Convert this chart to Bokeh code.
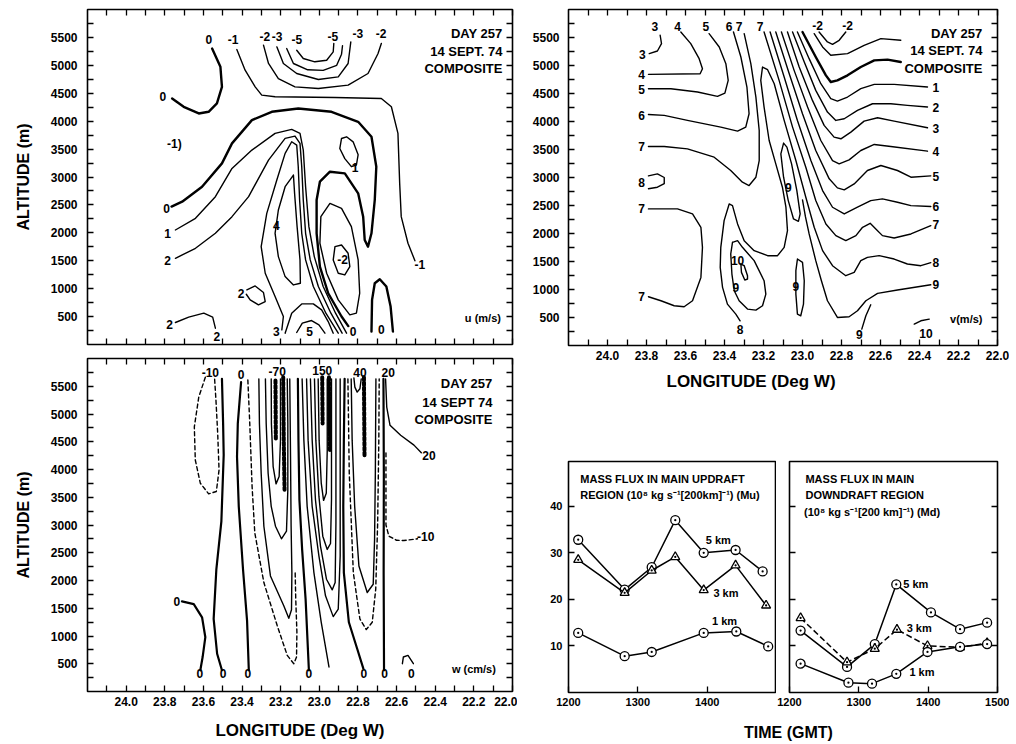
from bokeh.plotting import figure
from bokeh.models import (Range1d, LinearAxis, FixedTicker, NumeralTickFormatter,
                          ColumnDataSource, Div, Title)
from bokeh.layouts import row, column
from bokeh.embed import file_html
from bokeh.resources import INLINE
from bokeh.core.properties import value

FONT = "Liberation Sans"

# ---------------- axes ----------------
LON_TICKS = [24.0, 23.8, 23.6, 23.4, 23.2, 23.0, 22.8, 22.6, 22.4, 22.2, 22.0]
LON_MINOR = [24.1, 23.9, 23.7, 23.5, 23.3, 23.1, 22.9, 22.7, 22.5, 22.3, 22.1]
ALT_TICKS = [500, 1000, 1500, 2000, 2500, 3000, 3500, 4000, 4500, 5000, 5500]
ALT_MINOR = [250, 750, 1250, 1750, 2250, 2750, 3250, 3750, 4250, 4750, 5250, 5750]
TIME_TICKS_UP = [1200, 1300, 1400]
TIME_TICKS_DOWN = [1200, 1300, 1400, 1500]
FLUX_TICKS = [10, 20, 30, 40]

NOTE_UV = ["DAY 257", "14 SEPT. 74", "COMPOSITE"]
NOTE_W = ["DAY 257", "14 SEPT 74", "COMPOSITE"]

# ---------------- u (m/s) contours: (lon degW, altitude m) ----------------
U_ZERO_TL = [(23.555, 5300), (23.512, 4973), (23.504, 4615), (23.530, 4317), (23.573, 4168),
             (23.624, 4138), (23.702, 4257), (23.762, 4407)]
U_NEG1 = [(23.427, 5283), (23.384, 4913), (23.332, 4615), (23.298, 4466), (23.229, 4437),
          (22.920, 4425), (22.679, 4407), (22.627, 4258), (22.593, 3781), (22.584, 2886),
          (22.576, 2290), (22.541, 1813), (22.505, 1500)]
U_NEG2 = [(23.289, 5361), (23.263, 5033), (23.212, 4764), (23.126, 4615), (23.005, 4586),
          (22.851, 4645), (22.748, 4854), (22.696, 5212), (22.679, 5391)]
U_NEG3 = [(23.220, 5331), (23.186, 5033), (23.117, 4854), (23.005, 4747), (22.902, 4794),
          (22.851, 5033), (22.837, 5420)]
U_NEG4 = [(23.169, 5301), (23.134, 5033), (23.060, 4920), (22.980, 4910), (22.910, 5000),
          (22.885, 5200), (22.880, 5350)]
U_NEG5 = [(23.117, 5271), (23.083, 5122), (23.023, 5063), (22.962, 5092), (22.928, 5242),
          (22.925, 5391)]
U_ZERO_ARCH = [(23.765, 2470), (23.710, 2558), (23.607, 2826), (23.504, 3244), (23.452, 3602),
               (23.349, 4019), (23.246, 4168), (23.109, 4228), (22.937, 4168), (22.799, 3989),
               (22.730, 3721), (22.705, 3184), (22.713, 2588), (22.730, 1992), (22.748, 1753),
               (22.765, 1872), (22.773, 2290), (22.799, 2707), (22.868, 3065), (22.945, 3095),
               (22.997, 2916), (23.014, 2588), (23.014, 1992), (22.997, 1395), (22.954, 918),
               (22.885, 501), (22.850, 330)]
U_ONE = [(23.745, 2051), (23.641, 2260), (23.538, 2648), (23.452, 3154), (23.349, 3482),
         (23.229, 3781), (23.143, 3852), (23.100, 3781), (23.083, 3482), (23.071, 2826),
         (23.054, 2111), (23.026, 1574), (22.980, 1038), (22.916, 561), (22.859, 203)]
U_TWO = [(23.745, 1544), (23.641, 1723), (23.538, 1992), (23.452, 2290), (23.366, 2648),
         (23.263, 3303), (23.177, 3691), (23.126, 3733), (23.100, 3602), (23.091, 3184),
         (23.083, 2588), (23.071, 1992), (23.047, 1515), (23.005, 1038), (22.940, 561),
         (22.882, 203)]
U_THREE = [(23.194, 262), (23.186, 501), (23.229, 859), (23.280, 1276), (23.301, 1753),
           (23.272, 2349), (23.220, 2946), (23.177, 3423), (23.143, 3631), (23.117, 3572),
           (23.109, 3184), (23.102, 2588), (23.091, 1992), (23.071, 1515), (23.031, 1038),
           (22.966, 561), (22.902, 203)]
U_FOUR_LOOP = [(23.134, 3035), (23.177, 2826), (23.212, 2409), (23.229, 1992), (23.212, 1574),
               (23.177, 1216), (23.134, 1067), (23.098, 1097), (23.100, 1515), (23.115, 2111),
               (23.128, 2707), (23.134, 3035)]
U_FOUR_LOW = [(23.177, 203), (23.143, 561), (23.091, 727), (23.031, 727), (22.988, 620),
              (22.954, 411), (22.928, 203)]
U_FIVE = [(23.117, 215), (23.088, 382), (23.040, 429), (23.002, 352), (22.971, 203)]
U_NEG1_LOOP = [(22.992, 2290), (22.945, 2528), (22.885, 2439), (22.834, 2111), (22.799, 1515),
               (22.791, 918), (22.808, 561), (22.842, 531), (22.902, 799), (22.962, 1276),
               (22.997, 1813), (22.992, 2290)]
U_NEG2_LOOP = [(22.919, 1753), (22.885, 1783), (22.851, 1634), (22.842, 1395), (22.868, 1246),
               (22.902, 1276), (22.928, 1515), (22.919, 1753)]
U_ONE_LOOP = [(22.885, 3690), (22.859, 3720), (22.825, 3630), (22.799, 3400), (22.808, 3215),
              (22.834, 3185), (22.868, 3330), (22.894, 3510), (22.885, 3690)]
U_ZERO_BR = [(22.730, 233), (22.727, 799), (22.713, 1097), (22.687, 1169), (22.653, 1038),
             (22.631, 680), (22.619, 233)]
U_TWO_LOOP = [(23.375, 978), (23.332, 1049), (23.289, 930), (23.280, 769), (23.315, 710),
              (23.358, 799), (23.378, 900)]
U_TWO_LOW = [(23.745, 394), (23.676, 489), (23.598, 561), (23.552, 489), (23.538, 292)]
U_LABELS = [("0", 23.572, 5470), ("-1", 23.447, 5470), ("-2", 23.282, 5510), ("-3", 23.218, 5510),
            ("-5", 23.117, 5470), ("-5", 22.930, 5510), ("-3", 22.800, 5570), ("-2", 22.680, 5570),
            ("0", 23.810, 4450), ("-1)", 23.750, 3600), ("0", 23.790, 2440), ("1", 23.785, 1990),
            ("2", 23.785, 1500), ("1", 22.815, 3170), ("4", 23.222, 2140), ("-2", 22.880, 1515),
            ("-1", 22.480, 1425), ("2", 23.405, 910), ("2", 23.775, 352), ("2", 23.530, 140),
            ("3", 23.222, 233), ("5", 23.050, 233), ("0", 22.825, 233), ("0", 22.679, 262)]

# ---------------- v (m/s) contours ----------------
V_3 = [(23.730, 5540), (23.723, 5391), (23.744, 5259), (23.786, 5212)]
V_4 = [(23.624, 5599), (23.573, 5391), (23.530, 5122), (23.513, 4943), (23.525, 4854), (23.790, 4842)]
V_5 = [(23.479, 5569), (23.427, 5331), (23.393, 5033), (23.381, 4735), (23.398, 4508), (23.436, 4448),
       (23.538, 4526), (23.675, 4586), (23.790, 4586)]
V_6 = [(23.354, 5599), (23.316, 5152), (23.285, 4615), (23.274, 4138), (23.291, 3900), (23.333, 3828),
       (23.419, 3900), (23.590, 4019), (23.709, 4109), (23.790, 4126)]
V_7_UP = [(23.299, 5569), (23.265, 5033), (23.239, 4436), (23.222, 3840), (23.222, 3303), (23.239, 3005),
          (23.274, 2856), (23.308, 2916), (23.368, 3125), (23.453, 3363), (23.590, 3512), (23.709, 3554),
          (23.790, 3554)]
V_8_LEFT = [(23.790, 3030), (23.744, 3065), (23.709, 3000), (23.709, 2890), (23.744, 2826), (23.790, 2800)]
V_7_LOW = [(23.790, 2439), (23.641, 2439), (23.564, 2349), (23.521, 2111), (23.513, 1753), (23.521, 1216),
           (23.564, 799), (23.607, 692), (23.658, 710), (23.726, 799), (23.790, 871)]
V_8 = [(23.320, 441), (23.342, 561), (23.385, 739), (23.410, 1038), (23.422, 1395), (23.419, 1753),
       (23.402, 2230), (23.376, 2528), (23.359, 2498), (23.333, 2171), (23.299, 1872), (23.248, 1694),
       (23.179, 1604), (23.128, 1604), (23.094, 1753), (23.077, 2051), (23.085, 2469), (23.103, 2826),
       (23.137, 3244), (23.171, 3661), (23.197, 4258), (23.214, 4735), (23.205, 4973), (23.179, 4925),
       (23.145, 4675), (23.094, 4019), (23.034, 3303), (22.983, 2648), (22.940, 2111), (22.897, 1694),
       (22.846, 1425), (22.778, 1246), (22.735, 1306), (22.701, 1515), (22.667, 1574), (22.607, 1604),
       (22.530, 1544), (22.462, 1455), (22.393, 1425), (22.342, 1479)]
V_9_LOOP = [(23.097, 3614), (23.111, 3423), (23.097, 3005), (23.073, 2588), (23.046, 2260), (23.021, 2218),
            (23.012, 2349), (23.029, 2767), (23.056, 3244), (23.080, 3542), (23.097, 3614)]
V_9 = [(23.000, 2600), (22.985, 2300), (22.966, 1992), (22.932, 1515), (22.903, 1157), (22.872, 799),
       (22.821, 501), (22.761, 513), (22.718, 620), (22.675, 799), (22.615, 930), (22.513, 990),
       (22.342, 1085)]
V_9_LOW = [(22.696, 292), (22.675, 531), (22.650, 727)]
V_9_RLOOP = [(23.026, 1544), (23.000, 1485), (22.991, 1157), (22.995, 739), (23.009, 531), (23.026, 561),
             (23.034, 918), (23.034, 1336), (23.026, 1544)]
V_9_OUTER = [(23.359, 1843), (23.333, 1872), (23.308, 1753), (23.248, 1515), (23.197, 1157), (23.188, 918),
             (23.205, 710), (23.239, 632), (23.282, 650), (23.325, 799), (23.350, 978), (23.362, 1276),
             (23.368, 1634), (23.359, 1843)]
V_10 = [(23.316, 1455), (23.299, 1425), (23.282, 1246), (23.282, 1187), (23.296, 1169), (23.313, 1306),
        (23.316, 1455)]
V_7 = [(23.197, 5599), (23.120, 4735), (23.051, 3900), (22.983, 3184), (22.932, 2588), (22.880, 2171),
       (22.829, 1962), (22.778, 1872), (22.726, 1962), (22.692, 2111), (22.653, 2182), (22.624, 2081),
       (22.590, 1962), (22.530, 1920), (22.444, 1992), (22.342, 2141)]
V_6B = [(23.166, 5599), (23.094, 4794), (23.026, 4019), (22.957, 3303), (22.897, 2767), (22.846, 2469),
        (22.786, 2349), (22.718, 2469), (22.650, 2588), (22.590, 2618), (22.513, 2558), (22.444, 2498),
        (22.342, 2481)]
V_5B = [(23.137, 5599), (23.068, 4854), (23.000, 4138), (22.932, 3482), (22.863, 2976), (22.821, 2815),
        (22.786, 2779), (22.735, 2886), (22.667, 3125), (22.598, 3214), (22.513, 3125), (22.444, 3005),
        (22.342, 3029)]
V_4B = [(23.108, 5599), (23.043, 4913), (22.974, 4258), (22.906, 3661), (22.846, 3303), (22.812, 3244),
        (22.761, 3315), (22.701, 3482), (22.632, 3590), (22.547, 3554), (22.359, 3470)]
V_3B = [(23.077, 5599), (23.017, 4973), (22.949, 4377), (22.889, 3930), (22.838, 3721), (22.803, 3691),
        (22.752, 3810), (22.684, 4007), (22.615, 4067), (22.530, 4007), (22.359, 3888)]
V_2B = [(23.051, 5599), (22.991, 5063), (22.932, 4556), (22.872, 4168), (22.829, 4019), (22.786, 4049),
        (22.718, 4198), (22.641, 4317), (22.547, 4317), (22.462, 4287), (22.359, 4258)]
V_1B = [(23.026, 5599), (22.966, 5122), (22.906, 4675), (22.855, 4407), (22.821, 4365), (22.769, 4437),
        (22.701, 4586), (22.632, 4663), (22.530, 4663), (22.359, 4615)]
V_0B = [(23.000, 5599), (22.932, 5152), (22.880, 4824), (22.855, 4705), (22.821, 4735), (22.769, 4824),
        (22.701, 4973), (22.632, 5092), (22.564, 5104), (22.496, 5063)]
V_NEG1 = [(22.940, 5569), (22.897, 5331), (22.855, 5182), (22.769, 5212), (22.684, 5361), (22.598, 5480),
          (22.496, 5450)]
V_NEG2 = [(22.915, 5599), (22.872, 5420), (22.846, 5379), (22.812, 5450), (22.778, 5599)]
V_10_ARC = [(22.427, 382), (22.393, 441), (22.350, 471)]
V_LABELS = [("3", 23.757, 5700), ("4", 23.641, 5700), ("5", 23.496, 5700), ("6", 23.376, 5700),
            ("7", 23.325, 5700), ("7", 23.217, 5700), ("-2", 22.923, 5718), ("-2", 22.769, 5718),
            ("3", 23.821, 5200), ("4", 23.825, 4842), ("5", 23.825, 4580), ("6", 23.825, 4115),
            ("7", 23.825, 3550), ("8", 23.825, 2910), ("7", 23.825, 2439), ("7", 23.825, 871),
            ("9", 23.073, 2826), ("10", 23.333, 1515), ("9", 23.342, 1038), ("9", 23.034, 1049),
            ("8", 23.320, 290), ("9", 22.709, 203), ("10", 22.367, 215),
            ("1", 22.316, 4603), ("2", 22.316, 4258), ("3", 22.316, 3870), ("4", 22.316, 3470),
            ("5", 22.316, 3017), ("6", 22.316, 2481), ("7", 22.316, 2159), ("8", 22.316, 1485),
            ("9", 22.316, 1097)]

# ---------------- w (cm/s) contours ----------------
W_NEG10_LOOP = [(23.590, 5663), (23.624, 5305), (23.647, 4768), (23.642, 4171), (23.616, 3753),
                (23.573, 3562), (23.533, 3604), (23.519, 3992), (23.526, 4648), (23.535, 5245),
                (23.542, 5633)]
W_ZERO_ARC = [(23.711, 1623), (23.650, 1575), (23.607, 1337), (23.590, 978), (23.604, 621), (23.616, 382)]
W_ZERO_A = [(23.504, 5633), (23.498, 4827), (23.495, 4260), (23.507, 3067), (23.533, 2202),
            (23.547, 1307), (23.529, 680), (23.504, 382)]
W_ZERO_B = [(23.405, 5573), (23.422, 4827), (23.426, 4231), (23.417, 3336), (23.395, 2202),
            (23.374, 1277), (23.365, 382)]
W_NEG_U = [(23.370, 5615), (23.360, 4827), (23.348, 3694), (23.334, 2858), (23.287, 1963),
           (23.218, 1188), (23.166, 650), (23.132, 501), (23.118, 621), (23.116, 1068),
           (23.122, 1665), (23.125, 2142)]
W_UA = [(23.249, 5633), (23.248, 4827), (23.239, 4052), (23.224, 3741), (23.208, 3873), (23.201, 4529),
        (23.201, 5633)]
W_UB = [(23.279, 5633), (23.275, 4827), (23.265, 3932), (23.249, 3336), (23.227, 2978), (23.196, 2751),
        (23.170, 2888), (23.163, 3634), (23.163, 4827), (23.166, 5633)]
W_UC = [(23.313, 5633), (23.310, 4827), (23.301, 3932), (23.287, 2978), (23.253, 2082), (23.184, 1545),
        (23.158, 1319), (23.144, 1474), (23.142, 2142), (23.146, 2978), (23.149, 4231), (23.153, 5633)]
W_ZERO_C = [(23.111, 5633), (23.108, 4529), (23.103, 3455), (23.089, 2560), (23.071, 1665), (23.054, 382)]
W_LB = [(23.089, 5633), (23.080, 4529), (23.063, 3336), (23.028, 2142), (22.990, 1247), (22.950, 442)]
W_UG = [(23.066, 5633), (23.058, 4529), (23.037, 3336), (23.002, 2440), (22.968, 1724), (22.928, 1349),
        (22.902, 1486), (22.892, 2440), (22.892, 3932), (22.892, 5633)]
W_UF = [(23.046, 5633), (23.037, 4529), (23.020, 3455), (22.994, 2620), (22.963, 2023), (22.933, 1832),
        (22.918, 1963), (22.914, 3037), (22.914, 5633)]
W_UE = [(23.025, 5633), (23.018, 4529), (23.002, 3515), (22.982, 2799), (22.959, 2560), (22.942, 2667),
        (22.937, 3455), (22.937, 5633)]
W_UD = [(23.006, 5633), (23.001, 4529), (22.990, 3753), (22.978, 3443), (22.964, 3574), (22.959, 4350),
        (22.959, 5633)]
W_ZERO_D = [(22.869, 5633), (22.873, 4529), (22.876, 3336), (22.873, 2142), (22.847, 1247), (22.804, 770),
            (22.772, 412)]
W_NEG_U2 = [(22.852, 5633), (22.845, 3932), (22.824, 2142), (22.790, 1307), (22.757, 1116), (22.726, 1247),
            (22.708, 1844), (22.698, 3037), (22.692, 4529), (22.690, 5633)]
W_UH = [(22.835, 5633), (22.830, 4529), (22.817, 3336), (22.795, 2262), (22.752, 1784), (22.721, 1933),
        (22.714, 2739), (22.710, 3932), (22.707, 5633)]
W_40 = [(22.821, 5651), (22.816, 5484), (22.804, 5394), (22.790, 5454), (22.783, 5633)]
W_NEG10_R = [(22.655, 4300), (22.655, 3000), (22.640, 2800), (22.600, 2725), (22.562, 2721), (22.492, 2751)]
W_ZERO_E = [(22.668, 5633), (22.666, 3932), (22.667, 2142), (22.665, 382)]
W_20 = [(22.657, 5633), (22.651, 5126), (22.634, 4797), (22.579, 4618), (22.510, 4439), (22.472, 4302)]
W_HOOK = [(22.570, 501), (22.565, 621), (22.541, 650), (22.513, 501)]
W_DENSE = [[(23.187, 5663), (23.184, 4529), (23.180, 3634)], [(23.227, 5603), (23.225, 4529)],
           [(22.950, 5663), (22.947, 4827), (22.945, 4350)], [(22.985, 5663), (22.983, 4827)],
           [(22.769, 5663), (22.766, 4231)]]
W_LABELS = [("-10", 23.564, 5750), ("0", 23.405, 5720), ("-70", 23.218, 5760), ("150", 22.985, 5790),
            ("40", 22.790, 5740), ("20", 22.643, 5740), ("0", 23.737, 1623), ("0", 23.619, 322),
            ("0", 23.498, 322), ("0", 23.370, 322), ("0", 23.054, 322), ("0", 22.769, 322),
            ("0", 22.662, 322), ("0", 22.524, 322), ("20", 22.432, 4260), ("-10", 22.449, 2800)]

# ---------------- mass flux (10^8 kg s^-1 [200 km]^-1) ----------------
UP_T5 = [1214, 1281, 1320, 1354, 1395, 1441, 1480]
UP_5KM = [32.8, 22.1, 26.9, 37.0, 30.0, 30.6, 26.0]
UP_T3 = [1214, 1281, 1320, 1354, 1395, 1441, 1485]
UP_3KM = [28.5, 21.4, 26.2, 29.1, 22.0, 27.3, 18.7]
UP_T1 = [1214, 1281, 1320, 1395, 1442, 1488]
UP_1KM = [12.8, 7.8, 8.7, 12.8, 13.1, 9.9]
DN_T5 = [1216, 1283, 1323, 1354, 1404, 1446, 1485]
DN_5KM = [13.3, 5.5, 10.4, 23.2, 17.2, 13.6, 15.0]
DN_T3 = [1216, 1283, 1323, 1355, 1399, 1446, 1485]
DN_3KM = [16.0, 6.5, 9.4, 13.5, 10.0, 9.7, 10.6]
DN_T1 = [1216, 1285, 1319, 1354, 1399, 1446, 1485]
DN_1KM = [6.2, 2.1, 1.9, 4.0, 8.7, 9.8, 10.4]


# ---------------- helpers ----------------
def style_axis(ax, show, ticks, standoff=6, size="12px"):
    ax.axis_line_color = None
    ax.major_tick_in = 6
    ax.major_tick_out = 0
    ax.minor_tick_in = 6
    ax.minor_tick_out = 0
    ax.major_tick_line_color = "black"
    ax.minor_tick_line_color = "black"
    ax.major_tick_line_width = 1.3
    ax.minor_tick_line_width = 1.3
    ax.major_label_text_font = FONT
    ax.major_label_text_font_style = "bold"
    ax.major_label_text_color = "black"
    if show:
        ax.major_label_text_font_size = size
        ax.major_label_standoff = standoff
    else:
        ax.major_label_overrides = {t: "" for t in ticks}
        ax.major_label_text_font_size = "0px"
        ax.major_label_standoff = 0


def base_fig(width, height, bl, br, bt, bb, xr, yr):
    p = figure(width=width, height=height, x_range=xr, y_range=yr,
               output_backend="svg", toolbar_location=None, min_border=0,
               min_border_left=bl, min_border_right=br, min_border_top=bt, min_border_bottom=bb)
    p.background_fill_color = "white"
    p.border_fill_color = "white"
    p.grid.visible = False
    p.outline_line_color = "black"
    p.outline_line_width = 1.6
    return p


def contour_fig(width, height, bl, br, bt, bb, show_x, ystand):
    p = base_fig(width, height, bl, br, bt, bb, Range1d(24.2, 22.0), Range1d(0, 6000))
    xa = p.below[0]
    ya = p.left[0]
    xa.ticker = FixedTicker(ticks=LON_TICKS, minor_ticks=LON_MINOR)
    xa.formatter = NumeralTickFormatter(format="0.0")
    ya.ticker = FixedTicker(ticks=ALT_TICKS, minor_ticks=ALT_MINOR)
    style_axis(xa, show_x, LON_TICKS, standoff=5)
    style_axis(ya, True, ALT_TICKS, standoff=ystand)
    top = LinearAxis(ticker=FixedTicker(ticks=LON_TICKS, minor_ticks=LON_MINOR))
    style_axis(top, False, LON_TICKS)
    p.add_layout(top, "above")
    right = LinearAxis(ticker=FixedTicker(ticks=ALT_TICKS, minor_ticks=ALT_MINOR))
    style_axis(right, False, ALT_TICKS)
    p.add_layout(right, "right")
    return p


def draw(p, pts, w=1.4, dash="solid"):
    p.line([a for a, _ in pts], [b for _, b in pts], line_color="black", line_width=w,
           line_dash=dash, line_join="round", line_cap="round")


def put_labels(p, items, size="12px"):
    src = ColumnDataSource(dict(x=[i[1] for i in items], y=[i[2] for i in items],
                                t=[i[0] for i in items]))
    p.text(x="x", y="y", text="t", source=src, text_font=value(FONT),
           text_font_size=value(size), text_font_style="bold", text_align="center",
           text_baseline="middle", text_color="black")


def put_note(p, lines, x, ys, size="13px"):
    p.text(x=[x] * len(lines), y=ys, text=lines, text_font=value(FONT),
           text_font_size=value(size), text_font_style="bold", text_align="right",
           text_baseline="middle", text_color="black")


def axis_title(ax, text, standoff, size="16px"):
    ax.axis_label = text
    ax.axis_label_text_font = FONT
    ax.axis_label_text_font_style = "bold"
    ax.axis_label_text_font_size = size
    ax.axis_label_text_color = "black"
    ax.axis_label_standoff = standoff


# ---------------- panel u ----------------
pu = contour_fig(517, 350, 87, 5, 9, 6, False, 10)
axis_title(pu.left[0], "ALTITUDE (m)", 16)
for c in [U_ZERO_TL, U_ZERO_ARCH, U_ZERO_BR]:
    draw(pu, c, 2.4)
for c in [U_NEG1, U_NEG2, U_NEG3, U_NEG4, U_NEG5, U_ONE, U_TWO, U_THREE, U_FOUR_LOOP,
          U_FOUR_LOW, U_FIVE, U_NEG1_LOOP, U_NEG2_LOOP, U_ONE_LOOP, U_TWO_LOOP, U_TWO_LOW]:
    draw(pu, c, 1.4)
put_labels(pu, U_LABELS)
put_note(pu, NOTE_UV, 22.052, [5569, 5241, 4943])
put_note(pu, ["u (m/s)"], 22.060, [471], size="11px")

# ---------------- panel v ----------------
pv = contour_fig(492, 401, 51, 12, 9, 56, True, 9)
draw(pv, V_0B, 2.4)
for c in [V_3, V_4, V_5, V_6, V_7_UP, V_8_LEFT, V_7_LOW, V_8, V_9_LOOP, V_9, V_9_LOW, V_9_RLOOP,
          V_9_OUTER, V_10, V_7, V_6B, V_5B, V_4B, V_3B, V_2B, V_1B, V_NEG1, V_NEG2, V_10_ARC]:
    draw(pv, c, 1.4)
put_labels(pv, V_LABELS)
put_note(pv, NOTE_UV, 22.077, [5569, 5271, 4943])
put_note(pv, ["v(m/s)"], 22.077, [471], size="11px")
pv.add_layout(Title(text="LONGITUDE (Deg W)", align="left", offset=98, standoff=15,
                    text_font=FONT, text_font_size="17px", text_font_style="bold",
                    text_color="black"), "below")

# ---------------- panel w ----------------
pw = contour_fig(517, 392, 87, 5, 8, 50, True, 10)
axis_title(pw.left[0], "ALTITUDE (m)", 16)
axis_title(pw.below[0], "LONGITUDE (Deg W)", 12, size="17px")
for c in [W_ZERO_ARC, W_ZERO_A, W_ZERO_B, W_ZERO_C, W_ZERO_D, W_ZERO_E]:
    draw(pw, c, 2.2)
for c in [W_UA, W_UB, W_UC, W_LB, W_UG, W_UF, W_UE, W_UD, W_UH, W_40, W_20, W_HOOK]:
    draw(pw, c, 1.4)
for c in [W_NEG10_LOOP, W_NEG_U, W_NEG_U2, W_NEG10_R]:
    draw(pw, c, 1.4, "4 3")
for c in W_DENSE:
    draw(pw, c, 4.0, "3 2")
put_labels(pw, W_LABELS)
put_note(pw, NOTE_W, 22.104, [5543, 5215, 4899])
put_note(pw, ["w (cm/s)"], 22.086, [412], size="11px")


# ---------------- mass flux panels ----------------
def flux_fig(width, bl, br, show_y, xticks, right_axis):
    p = base_fig(width, 311, bl, br, 60, 20, Range1d(1200, 1500), Range1d(0, 49.6))
    xa = p.below[0]
    ya = p.left[0]
    xa.ticker = FixedTicker(ticks=xticks)
    ya.ticker = FixedTicker(ticks=FLUX_TICKS)
    style_axis(xa, True, xticks, standoff=5, size="11px")
    style_axis(ya, show_y, FLUX_TICKS, standoff=6, size="11px")
    if right_axis:
        right = LinearAxis(ticker=FixedTicker(ticks=FLUX_TICKS))
        style_axis(right, False, FLUX_TICKS)
        p.add_layout(right, "right")
    return p


def series(p, t, v, marker, dash="solid"):
    p.line(t, v, line_color="black", line_width=1.5, line_dash=dash)
    p.scatter(t, v, marker=marker, size=9, fill_color="white", line_color="black", line_width=1.3)


def small_text(p, xs, ys, texts, size="11px", align="left"):
    p.text(x=xs, y=ys, text=texts, text_font=value(FONT), text_font_size=value(size),
           text_font_style="bold", text_align=align, text_baseline="middle", text_color="black")


pd = flux_fig(259, 51, 0, True, TIME_TICKS_UP, False)
series(pd, UP_T5, UP_5KM, "circle_dot")
series(pd, UP_T3, UP_3KM, "triangle_dot")
series(pd, UP_T1, UP_1KM, "circle_dot")
small_text(pd, [1217, 1217], [45.9, 42.3],
           ["MASS FLUX IN MAIN UPDRAFT", "REGION (10\u2078 kg s\u207b\u00b9[200km]\u207b\u00b9) (Mu)"])
small_text(pd, [1398, 1409, 1407], [32.8, 21.3, 15.4], ["5 km", "3 km", "1 km"])

pe = flux_fig(233, 13, 12, False, TIME_TICKS_DOWN, True)
series(pe, DN_T5, DN_5KM, "circle_dot")
series(pe, DN_T3, DN_3KM, "triangle_dot", dash="6 3")
series(pe, DN_T1, DN_1KM, "circle_dot")
small_text(pe, [1223, 1223, 1221], [45.9, 42.3, 38.7],
           ["MASS FLUX IN MAIN", "DOWNDRAFT REGION",
            "(10\u2078 kg s\u207b\u00b9[200 km]\u207b\u00b9) (Md)"])
small_text(pe, [1364, 1369, 1373], [23.4, 13.8, 4.3], ["5 km", "3 km", "1 km"])

time_title = Div(text='<div style="padding-left:222px;padding-top:7px;font-family:\'Liberation Sans\';'
                      'font-weight:bold;font-size:16px;line-height:18px;color:black;white-space:nowrap;">'
                      'TIME (GMT)</div>',
                 width=492, height=30)

layout = row(column(pu, pw), column(pv, row(pd, pe), time_title))

with open("out.html", "w") as f:
    f.write(file_html(layout, INLINE))
